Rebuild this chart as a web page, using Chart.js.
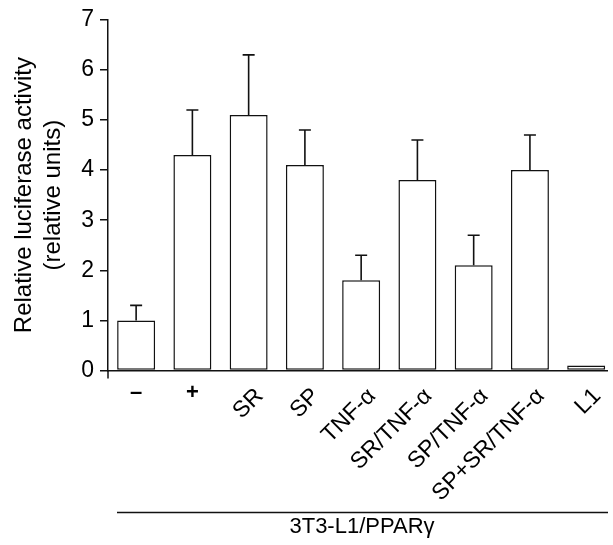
<!DOCTYPE html>
<html><head><meta charset="utf-8">
<script src="https://cdn.jsdelivr.net/npm/chart.js@4"></script>
<style>html,body{margin:0;padding:0;background:#fff;overflow:hidden}#wrap{width:613px;height:545px}</style>
</head><body><div id="wrap"><canvas id="c" width="613" height="545"></canvas></div>
<script>
const categories = ["–", "+", "SR", "SP", "TNF-α", "SR/TNF-α", "SP/TNF-α", "SP+SR/TNF-α", "L1"];
const values = [1.0, 4.3, 5.1, 4.1, 1.8, 3.8, 2.1, 4.0, 0.1];
const errors = [0.3, 0.9, 1.2, 0.7, 0.5, 0.8, 0.6, 0.7, 0];
const yTicks = [0, 1, 2, 3, 4, 5, 6, 7];
const yTitle = ["Relative luciferase activity", "(relative units)"];
const groupLabel = "3T3-L1/PPARγ";
const horizontalLabels = ["–", "+"];

const FONT = "'Liberation Sans', Arial, sans-serif";
const INK = "#111";

const overlay = {
  id: "overlay",
  afterDatasetsDraw(chart) {
    const ctx = chart.ctx;
    const meta = chart.getDatasetMeta(0);
    const ys = chart.scales.y;
    const xs = chart.scales.x;
    ctx.save();
    ctx.strokeStyle = INK;
    ctx.lineWidth = 1.6;
    meta.data.forEach((bar, i) => {
      if (!errors[i]) return;
      const x = bar.x;
      const top = ys.getPixelForValue(values[i] + errors[i]);
      ctx.beginPath();
      ctx.moveTo(x, bar.y);
      ctx.lineTo(x, top);
      ctx.moveTo(x - 6, top);
      ctx.lineTo(x + 6, top);
      ctx.stroke();
    });
    ctx.lineWidth = 1.5;
    ctx.beginPath();
    ctx.moveTo(xs.left, ys.getPixelForValue(0));
    ctx.lineTo(xs.left, ys.getPixelForValue(0) + 8);
    ctx.stroke();
    ctx.restore();
  },
  afterDraw(chart) {
    const ctx = chart.ctx;
    const xs = chart.scales.x;
    const base = chart.scales.y.getPixelForValue(0);
    ctx.save();
    ctx.fillStyle = "#000";
    categories.forEach((lab, i) => {
      const cx = xs.getPixelForValue(i);
      if (horizontalLabels.includes(lab)) {
        ctx.font = "bold 22px " + FONT;
        ctx.textAlign = "center";
        ctx.textBaseline = "middle";
        ctx.fillText(lab, cx, base + 22);
      } else {
        ctx.save();
        ctx.font = "23px " + FONT;
        ctx.translate(cx + 11, base + 22);
        ctx.rotate(-Math.PI / 4);
        ctx.textAlign = "right";
        ctx.textBaseline = "middle";
        ctx.fillText(lab, 0, 0);
        ctx.restore();
      }
    });
    ctx.strokeStyle = INK;
    ctx.lineWidth = 1.5;
    ctx.beginPath();
    ctx.moveTo(117, 512.5);
    ctx.lineTo(608, 512.5);
    ctx.stroke();
    ctx.font = "22px " + FONT;
    ctx.textAlign = "center";
    ctx.textBaseline = "middle";
    ctx.fillText(groupLabel, 362, 527);
    ctx.restore();
  }
};

new Chart(document.getElementById("c"), {
  type: "bar",
  data: {
    datasets: [{
      data: values.map((v, i) => ({ x: i, y: v })),
      backgroundColor: "#fff",
      borderColor: INK,
      borderWidth: 1.5,
      borderSkipped: false,
      barPercentage: 0.675,
      categoryPercentage: 1
    }]
  },
  options: {
    responsive: false,
    animation: false,
    devicePixelRatio: 1,
    layout: { padding: { top: 19, right: 6, bottom: 174.5, left: 0 } },
    plugins: { legend: { display: false }, tooltip: { enabled: false } },
    scales: {
      x: {
        type: "linear",
        offset: false,
        min: -0.5,
        max: 8.37,
        ticks: { display: false },
        grid: { display: false, offset: false },
        border: { color: INK, width: 1.5 },
        afterFit(s) { s.height = 0; }
      },
      y: {
        min: 0,
        max: 7,
        afterBuildTicks(s) { s.ticks = yTicks.map(v => ({ value: v })); },
        ticks: { color: "#000", font: { family: FONT, size: 23 }, padding: 6 },
        grid: { drawOnChartArea: false, drawTicks: true, tickLength: 8, color: INK, lineWidth: 1.5 },
        border: { color: INK, width: 1.5 },
        title: {
          display: true,
          text: yTitle,
          color: "#000",
          font: { family: FONT, size: 24, lineHeight: 1.22 },
          padding: { top: 9.5, bottom: 0 }
        },
        afterFit(s) { s.width = 108; }
      }
    }
  },
  plugins: [overlay]
});
</script>
</body></html>
